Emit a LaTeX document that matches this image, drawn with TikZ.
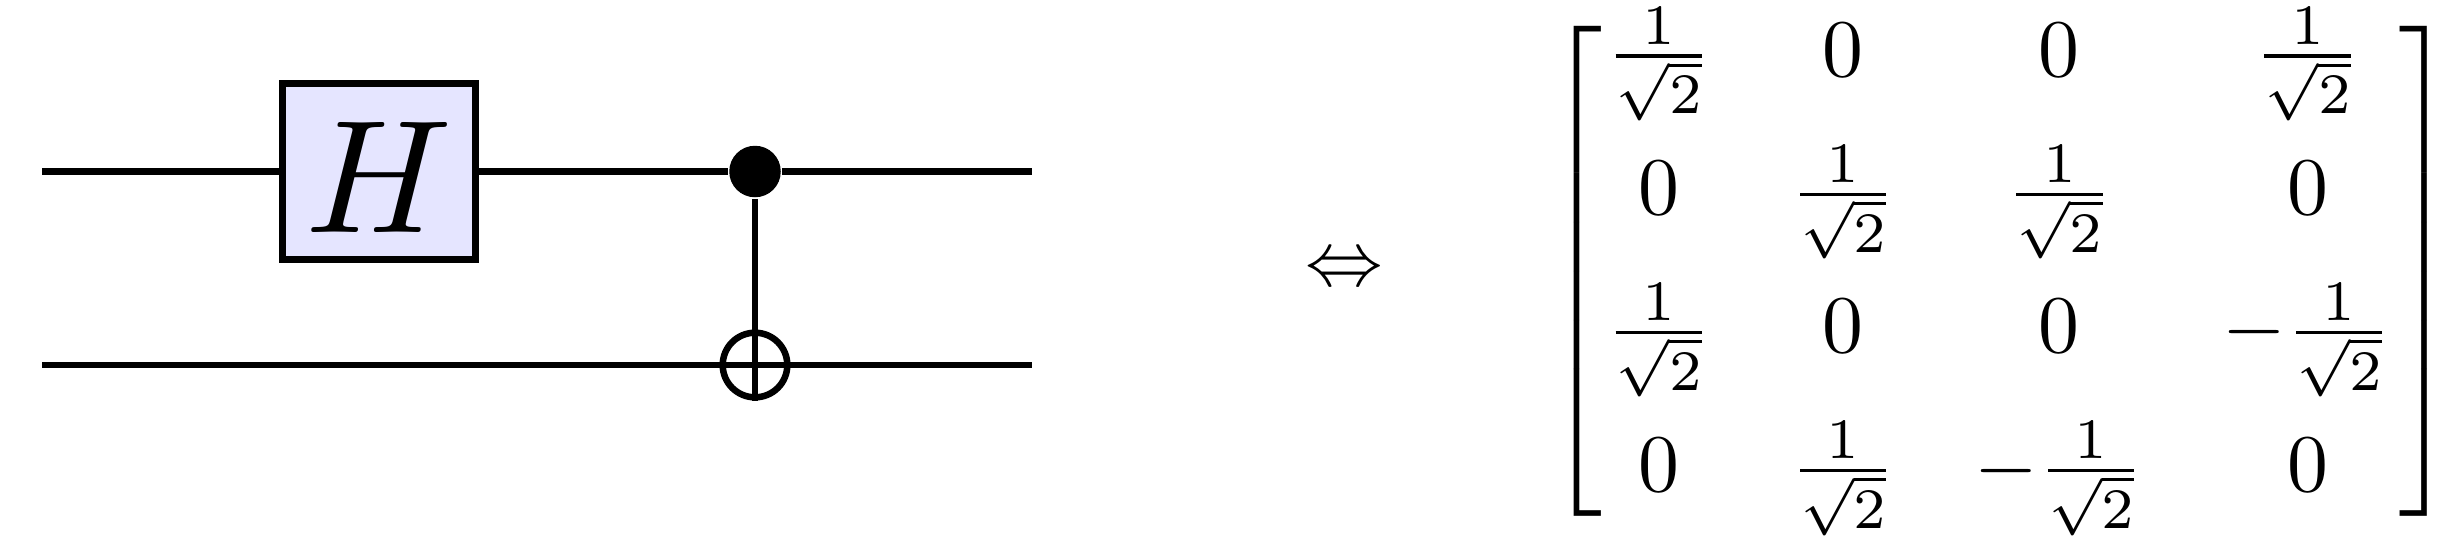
\documentclass[tikz,border=0pt]{standalone}
\usepackage{amsmath}
\usetikzlibrary{positioning}
\tikzstyle{wire} = [thick]
\tikzstyle{gatebox} = [rectangle, draw=black, thick, fill=blue!10, inner sep=0pt, minimum width=23.6pt, minimum height=21.5pt, text height=14.9pt, text depth=0pt]
\tikzstyle{ctrldot} = [circle, fill=black, inner sep=0pt, minimum size=6.3pt]
\tikzstyle{targetring} = [circle, draw=black, thick, inner sep=0pt, minimum size=7.9pt]

\begin{document}
\begin{tikzpicture}[x=0.1223pt,y=-0.1223pt]
\useasboundingbox (0,0) rectangle (2449,537);
\coordinate (in1) at (42,171.5);
\coordinate (out1) at (1032,171.5);
\coordinate (in2) at (42,365);
\coordinate (out2) at (1032,365);
\node (hgate) [gatebox] at (379,171.5) {\scalebox{1.97}{$H$}};
\node (ctrl) [ctrldot] at (755,171.5) {};
\node (targ) [targetring] at (755,365) {};
\draw [wire] (in1) -- (hgate);
\draw [wire] (hgate) -- (ctrl);
\draw [wire] (ctrl) -- (out1);
\draw [wire] (in2) -- (out2);
\draw [wire] (ctrl) -- (targ.south);
\node (equiv) [scale=0.95] at (1344,271) {$\Leftrightarrow$};
\node (unitary) [inner sep=0pt] at (2000.6,266.5) {%
  \arraycolsep=4.8pt\def\arraystretch{1.15}\delimiterfactor=850\delimitershortfall=10pt%
  $\left[\kern0.5pt\raisebox{0.57pt}{$\begin{matrix}
  \frac{1}{\sqrt{2}} & 0 & 0 & \frac{1}{\sqrt{2}} \\[3.1pt]
  0 & \frac{1}{\sqrt{2}} & \frac{1}{\sqrt{2}} & 0 \\[3.1pt]
  \frac{1}{\sqrt{2}} & 0 & 0 & -\frac{1}{\sqrt{2}} \\[3.1pt]
  0 & \frac{1}{\sqrt{2}} & -\frac{1}{\sqrt{2}} & 0
  \end{matrix}$}\kern0.9pt\right]$};
\end{tikzpicture}
\end{document}
